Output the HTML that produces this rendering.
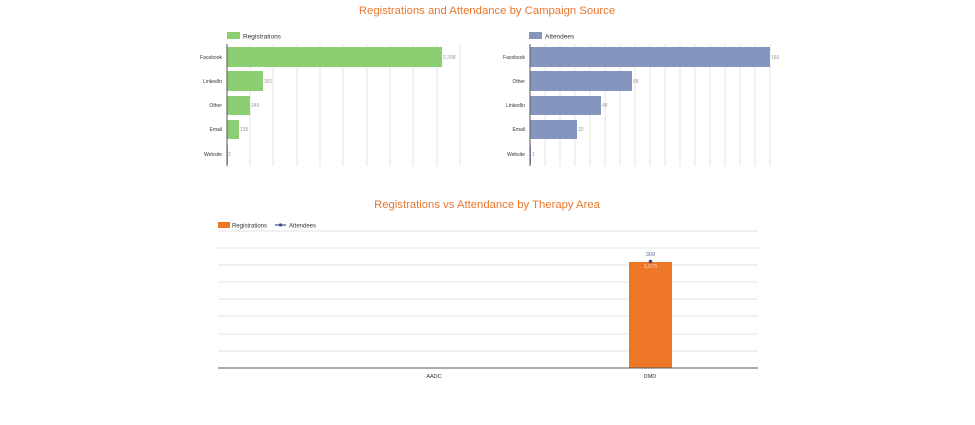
<!DOCTYPE html>
<html><head><style>
body{margin:0;width:975px;height:420px;background:#fff;font-family:"Liberation Sans",sans-serif;overflow:hidden}
</style></head><body>
<svg width="975" height="420" xmlns="http://www.w3.org/2000/svg" font-family="Liberation Sans, sans-serif">
<text x="487" y="14" text-anchor="middle" font-size="11.3" fill="#e8772e">Registrations and Attendance by Campaign Source</text>
<g stroke="#e6e6e6" stroke-width="1">
<line x1="250" y1="44" x2="250" y2="166"/><line x1="273" y1="44" x2="273" y2="166"/><line x1="297" y1="44" x2="297" y2="166"/><line x1="320" y1="44" x2="320" y2="166"/><line x1="343" y1="44" x2="343" y2="166"/><line x1="367" y1="44" x2="367" y2="166"/><line x1="390" y1="44" x2="390" y2="166"/><line x1="413" y1="44" x2="413" y2="166"/><line x1="437" y1="44" x2="437" y2="166"/><line x1="460" y1="44" x2="460" y2="166"/>
</g>
<rect x="227" y="32" width="13" height="7" fill="#8ccf72"/>
<text x="243" y="38.5" font-size="6.5" fill="#333">Registrations</text>
<g fill="#8ccf72">
<rect x="227" y="47" width="215" height="20"/>
<rect x="227" y="71" width="36" height="20"/>
<rect x="227" y="96" width="23" height="19"/>
<rect x="227" y="120" width="12" height="19"/>
<rect x="227" y="145" width="1" height="19"/>
</g>
<line x1="227" y1="44" x2="227" y2="166" stroke="#555" stroke-width="1"/>
<g font-size="5" fill="#333" text-anchor="end">
<text x="222" y="59">Facebook</text><text x="222" y="83">LinkedIn</text><text x="222" y="107">Other</text><text x="222" y="131">Email</text><text x="222" y="156">Website</text>
</g>
<g font-size="5" fill="#999">
<text x="443" y="59">2,298</text><text x="264" y="83">391</text><text x="251" y="107">249</text><text x="240" y="131">135</text><text x="228" y="156">2</text>
</g>
<g stroke="#e6e6e6">
<line x1="545" y1="44" x2="545" y2="166"/><line x1="560" y1="44" x2="560" y2="166"/><line x1="575" y1="44" x2="575" y2="166"/><line x1="590" y1="44" x2="590" y2="166"/><line x1="605" y1="44" x2="605" y2="166"/><line x1="620" y1="44" x2="620" y2="166"/><line x1="635" y1="44" x2="635" y2="166"/><line x1="650" y1="44" x2="650" y2="166"/><line x1="665" y1="44" x2="665" y2="166"/><line x1="680" y1="44" x2="680" y2="166"/><line x1="695" y1="44" x2="695" y2="166"/><line x1="710" y1="44" x2="710" y2="166"/><line x1="725" y1="44" x2="725" y2="166"/><line x1="740" y1="44" x2="740" y2="166"/><line x1="755" y1="44" x2="755" y2="166"/><line x1="770" y1="44" x2="770" y2="166"/>
</g>
<rect x="529" y="32" width="13" height="7" fill="#8595bd"/>
<text x="545" y="38.5" font-size="6.5" fill="#333">Attendees</text>
<g fill="#8595bd">
<rect x="530" y="47" width="240" height="20"/>
<rect x="530" y="71" width="102" height="20"/>
<rect x="530" y="96" width="71" height="19"/>
<rect x="530" y="120" width="47" height="19"/>
<rect x="530" y="145" width="1" height="19"/>
</g>
<line x1="530" y1="44" x2="530" y2="166" stroke="#555"/>
<g font-size="5" fill="#333" text-anchor="end">
<text x="525" y="59">Facebook</text><text x="525" y="83">Other</text><text x="525" y="107">LinkedIn</text><text x="525" y="131">Email</text><text x="525" y="156">Website</text>
</g>
<g font-size="5" fill="#999">
<text x="771" y="59">160</text><text x="633" y="83">68</text><text x="602" y="107">48</text><text x="578" y="131">32</text><text x="532" y="156">1</text>
</g>
<text x="487" y="208" text-anchor="middle" font-size="11.3" fill="#e8772e">Registrations vs Attendance by Therapy Area</text>
<rect x="218" y="222" width="12" height="6" fill="#ed7726"/>
<text x="232" y="227.5" font-size="6" fill="#333">Registrations</text>
<line x1="275" y1="225" x2="286" y2="225" stroke="#3f4d8c" stroke-width="1.2"/><circle cx="280.5" cy="225" r="1.6" fill="#3f4d8c"/>
<text x="289" y="227.5" font-size="6" fill="#333">Attendees</text>
<g stroke="#e3e3e3">
<line x1="218" y1="231" x2="758" y2="231"/><line x1="218" y1="248" x2="758" y2="248"/><line x1="218" y1="265" x2="758" y2="265"/><line x1="218" y1="282" x2="758" y2="282"/><line x1="218" y1="299" x2="758" y2="299"/><line x1="218" y1="316" x2="758" y2="316"/><line x1="218" y1="334" x2="758" y2="334"/><line x1="218" y1="351" x2="758" y2="351"/>
</g>
<rect x="629" y="262" width="43" height="106" fill="#ed7726"/>
<line x1="218" y1="368" x2="758" y2="368" stroke="#555"/>
<circle cx="650.5" cy="261.5" r="1.8" fill="#3f4d8c"/>
<text x="650.5" y="256" text-anchor="middle" font-size="5.5" fill="#5a6aa8">309</text>
<text x="650.5" y="268" text-anchor="middle" font-size="5.5" fill="#fbd3b5">3,075</text>
<g font-size="5.5" fill="#333" text-anchor="middle">
<text x="434" y="378">AADC</text><text x="650" y="378">DMD</text>
</g>
</svg>
</body></html>
